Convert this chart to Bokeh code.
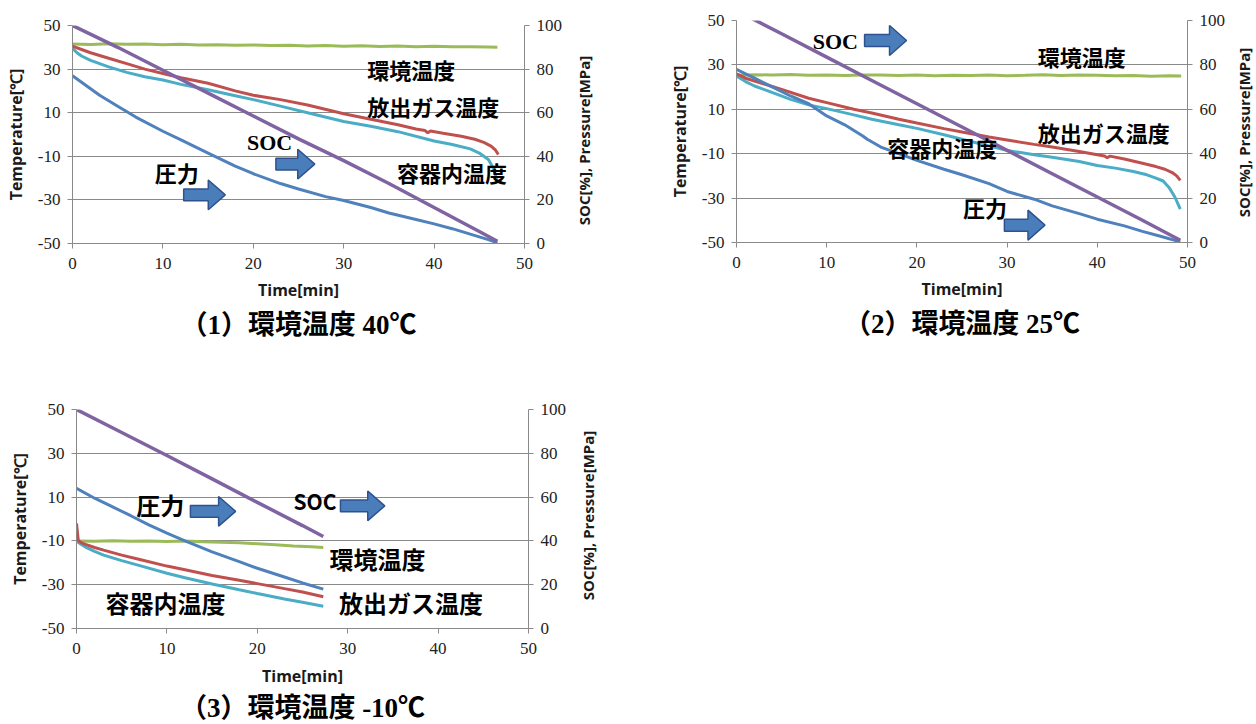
import math
from bokeh.plotting import figure
from bokeh.models import Range1d, LinearAxis, Label, Title, Plot
from bokeh.layouts import column, row
from bokeh.embed import file_html
from bokeh.resources import INLINE

# ---------------- axis definitions ----------------
TEMP_TICKS = [-50, -30, -10, 10, 30, 50]
TEMP_TICK_TEXT = {-50: "-50", -30: "-30", -10: "-10"}
RIGHT_TICKS = [0, 20, 40, 60, 80, 100]
TIME_TICKS = [0, 10, 20, 30, 40, 50]
TEMP_TITLE = "Temperature[℃]"
RIGHT_TITLE = "SOC[%], Pressure[MPa]"
TIME_TITLE = "Time[min]"

CAPTIONS = ["（1）環境温度 40℃", "（2）環境温度 25℃", "（3）環境温度 -10℃"]
NAMES = ["環境温度", "放出ガス温度", "容器内温度", "圧力", "SOC"]
COLORS = ["#9bbb59", "#c0504d", "#4bacc6", "#4f81bd", "#8064a2"]

# ---------------- panel 1 : ambient 40 C ----------------
p1_env_t = [0, 2, 4, 6, 8, 10, 12, 14, 16, 18, 20, 22, 24, 26, 28, 30, 32, 34, 36, 38, 40, 42, 44, 46, 47]
p1_env = [41.5, 41.3, 41.6, 41.4, 41.5, 41.2, 41.4, 41.1, 41.2, 40.9, 41.1, 40.8, 40.9, 40.6, 40.8,
          40.5, 40.7, 40.4, 40.6, 40.3, 40.5, 40.2, 40.3, 40.1, 40.0]
p1_gas_t = [0, 1, 2, 4, 6, 8, 10, 12, 15, 18, 20, 23, 26, 30, 33, 36, 38, 39, 39.3, 39.6, 41, 43,
            44.5, 45.5, 46.3, 46.8, 47.1]
p1_gas = [40.5, 39, 37.5, 35, 32.5, 30, 28, 26, 23.5, 20, 18, 16, 13.5, 9.5, 7, 4.5, 2.5, 1.8, 0.8,
          1.6, 0.6, -0.8, -2.2, -3.6, -5.3, -7.2, -9.2]
p1_ves_t = [0, 0.5, 1, 2, 4, 6, 8, 10, 12, 15, 18, 20, 23, 26, 30, 33, 36, 40, 42, 44, 45, 46, 46.5, 47]
p1_ves = [39.5, 37.5, 36, 34, 31, 28.5, 26.5, 25, 23, 20.5, 17.8, 16, 13, 10, 6, 3.8, 1.3, -3, -4.6,
          -6.6, -8.5, -11.5, -15, -21.5]
p1_prs_t = [0, 1, 2, 3, 5, 7, 10, 12, 15, 18, 20, 23, 25, 28, 30, 33, 35, 38, 40, 42, 44, 46, 47]
p1_prs = [77, 74, 71, 68, 63, 58, 51.5, 47.5, 41.5, 35.5, 32, 27.5, 25, 21.5, 19.7, 16.5, 14, 11, 9,
          6.8, 4.3, 1.8, 0.3]
p1_soc_t = [0, 5, 10, 15, 20, 25, 30, 35, 40, 45, 47]
p1_soc = [100, 90, 79.5, 69, 58.5, 48, 38, 27.5, 16.5, 5.5, 1]

# ---------------- panel 2 : ambient 25 C ----------------
p2_env_t = [0, 2, 4, 6, 8, 10, 12, 14, 16, 18, 20, 22, 24, 26, 28, 30, 32, 34, 36, 38, 40, 42, 44, 46, 48, 49.3]
p2_env = [25.3, 25.6, 25.4, 25.7, 25.3, 25.5, 25.2, 25.4, 25.5, 25.2, 25.4, 25.1, 25.3, 25.2, 25.4,
          25.1, 25.3, 25.6, 25.2, 25.4, 25.3, 25.1, 25.2, 24.9, 25.1, 25.0]
p2_gas_t = [0, 1, 3, 5, 8, 10, 13, 15, 18, 20, 23, 25, 28, 30, 33, 35, 38, 40, 40.8, 41.1, 41.4, 43,
            45, 46.5, 47.5, 48.3, 48.8, 49.2]
p2_gas = [26, 24, 21.5, 19, 15, 13, 10, 8.3, 5.5, 3.8, 1.3, -0.2, -2.5, -3.8, -5.8, -7, -9, -10.5,
          -11, -11.8, -11.1, -12.4, -14.3, -15.8, -17, -18.5, -20, -22]
p2_ves_t = [0, 1, 2, 4, 6, 8, 10, 13, 15, 18, 20, 23, 25, 28, 30, 33, 35, 38, 40, 42, 44, 45.5, 46.5,
            47.3, 48, 48.6, 49.2]
p2_ves = [25, 22.5, 20.5, 17.5, 14.5, 12, 10.3, 7.5, 5.5, 3, 1.4, -1.5, -3.5, -6.5, -8.5, -10.5,
          -11.6, -13.5, -15.3, -16.5, -18, -19.5, -21, -22.3, -25.5, -29.5, -35]
p2_prs_t = [0, 1, 2, 4, 6, 8, 10, 12, 14, 14.5, 16, 18, 20, 23, 25, 28, 30, 33, 35, 38, 40, 43, 45, 47, 49.2]
p2_prs = [78, 76, 74, 70, 66, 62.5, 57, 53, 48, 46.5, 43, 40, 37, 33, 30.5, 26.5, 23, 19.5, 16.5, 13,
          10.5, 7.5, 5, 2.8, 0.3]
p2_soc_t = [0, 5, 10, 15, 20, 25, 30, 35, 40, 45, 49.2]
p2_soc = [104.5, 94, 83.5, 73, 62.5, 52, 41.5, 31, 20.5, 10, 1]

# ---------------- panel 3 : ambient -10 C ----------------
p3_env_t = [0, 2, 4, 6, 8, 10, 12, 14, 16, 18, 20, 22, 24, 26, 27.3]
p3_env = [-10, -10.2, -9.9, -10.2, -10, -10.3, -10.1, -10.4, -10.6, -10.9, -11.3, -11.8, -12.3, -12.7, -13]
p3_gas_t = [0, 0.1, 0.2, 0.5, 1, 2, 3, 5, 7, 10, 12, 15, 18, 20, 23, 25, 27.3]
p3_gas = [-2, -6, -9.8, -10.8, -11.6, -13, -14.2, -16.5, -18.5, -21.5, -23.2, -25.8, -28, -29.5,
          -31.8, -33.3, -35.5]
p3_ves_t = [0, 0.5, 1, 2, 3, 5, 7, 10, 12, 15, 18, 20, 23, 25, 27.3]
p3_ves = [-10, -11.5, -12.8, -14.8, -16.5, -19, -21.3, -24.8, -26.8, -29.7, -32.3, -34, -36.5, -38, -39.8]
p3_prs_t = [0, 2, 4, 6, 8, 10, 12, 15, 18, 20, 23, 25, 27.3]
p3_prs = [64, 59.5, 55.5, 51.5, 47.3, 43.5, 40, 35, 30.5, 27.5, 23.5, 20.8, 18]
p3_soc_t = [0, 5, 10, 15, 20, 25, 27.3]
p3_soc = [100, 89.5, 79, 68.3, 57.6, 47, 42]

# ---------------- annotation anchors (left edge x [min], centre y [deg C]) ----------------
p1_lab_text = ["環境温度", "放出ガス温度", "容器内温度", "SOC", "圧力"]
p1_lab_x = [32.6, 32.6, 35.9, 19.3, 9.1]
p1_lab_y = [30.0, 12.9, -17.4, -3.8, -17.4]
p1_arr_x0 = [22.5, 12.3]
p1_arr_x1 = [26.8, 16.9]
p1_arr_y = [-13.6, -27.7]

p2_lab_text = ["環境温度", "放出ガス温度", "容器内温度", "SOC", "圧力"]
p2_lab_x = [33.4, 33.4, 16.7, 8.45, 25.1]
p2_lab_y = [33.8, -0.1, -6.8, 40.5, -33.9]
p2_arr_x0 = [14.2, 29.7]
p2_arr_x1 = [18.85, 34.2]
p2_arr_y = [41.0, -42.2]

p3_lab_text = ["環境温度", "放出ガス温度", "容器内温度", "SOC", "圧力"]
p3_lab_x = [28.0, 29.05, 3.2, 24.0, 6.6]
p3_lab_y = [-18.0, -38.0, -38.3, 8.3, 6.8]
p3_arr_x0 = [29.2, 12.6]
p3_arr_x1 = [34.1, 17.6]
p3_arr_y = [6.0, 3.5]

CJK = "Noto Sans CJK JP"
SERIF = "Liberation Serif"
SANS = "Open Sans"
GRID = "#8a8a8a"
TITLE_SIZE = "16px"
LTITLE_SIZE = "16px"
RTITLE_SIZE = "15px"


def make_panel(series, labels, arrows, caption, geom, soc_serif, jp_size, cap_standoff, xlab_standoff):
    w, h, bl, br, bt, bb = geom
    fw = w - bl - br
    fh = h - bt - bb
    p = figure(width=w, height=h, min_border_left=bl, min_border_right=br,
               min_border_top=bt, min_border_bottom=bb,
               x_range=Range1d(0, 50), y_range=Range1d(-50, 50),
               output_backend="svg", toolbar_location=None)
    if "frame_align" in Plot.properties():
        p.frame_align = False
    p.extra_y_ranges = {"r": Range1d(0, 100)}
    p.outline_line_color = None
    p.background_fill_color = "white"
    p.border_fill_color = "white"
    p.xgrid.visible = False
    p.ygrid.ticker = TEMP_TICKS
    p.ygrid.grid_line_color = GRID
    p.ygrid.grid_line_width = 1

    right = LinearAxis(y_range_name="r", ticker=RIGHT_TICKS)
    p.add_layout(right, "right")
    p.yaxis[0].ticker = TEMP_TICKS
    p.yaxis[0].major_label_overrides = TEMP_TICK_TEXT
    p.yaxis[0].axis_label = TEMP_TITLE
    p.xaxis.ticker = TIME_TICKS
    p.xaxis.axis_label = TIME_TITLE

    for ax in [p.xaxis[0], p.yaxis[0], right]:
        ax.axis_line_color = GRID
        ax.major_tick_line_color = GRID
        ax.major_tick_in = 0
        ax.major_tick_out = 5
        ax.minor_tick_line_color = None
        ax.major_label_text_font = SERIF
        ax.major_label_text_font_size = "17px"
        ax.major_label_text_color = "#222222"
        ax.major_label_standoff = 7
        ax.axis_label_text_font = SANS
        ax.axis_label_text_font_style = "bold"
        ax.axis_label_text_font_size = TITLE_SIZE
        ax.axis_label_text_color = "#1a1a1a"
        ax.axis_label_standoff = 8
    p.yaxis[0].axis_label_text_font_size = LTITLE_SIZE
    p.xaxis[0].major_label_standoff = 9
    p.xaxis[0].axis_label_standoff = xlab_standoff

    (env_t, env, gas_t, gas, ves_t, ves, prs_t, prs, soc_t, soc) = series
    p.line(env_t, env, line_color=COLORS[0], line_width=3)
    p.line(ves_t, ves, line_color=COLORS[2], line_width=3)
    p.line(gas_t, gas, line_color=COLORS[1], line_width=3)
    p.line(prs_t, prs, line_color=COLORS[3], line_width=3, y_range_name="r")
    p.line(soc_t, soc, line_color=COLORS[4], line_width=3.5, y_range_name="r")

    # block arrows (shape in pixels converted to data units)
    ax0, ax1, ay = arrows
    kx = 50.0 / fw
    ky = 100.0 / fh
    for x0, x1, yc in zip(ax0, ax1, ay):
        hl = 17 * kx
        sh = 6 * ky
        hh = 15 * ky
        xs = [x0, x1 - hl, x1 - hl, x1, x1 - hl, x1 - hl, x0]
        ys = [yc - sh, yc - sh, yc - hh, yc, yc + hh, yc + sh, yc + sh]
        p.patch(xs, ys, fill_color="#4a7ebb", line_color="#2f528f", line_width=1.5)

    txt, lx, ly = labels
    for t, x, y in zip(txt, lx, ly):
        if t == "SOC":
            font = SERIF if soc_serif else CJK
            size = "22px" if soc_serif else "21px"
        else:
            font = CJK
            size = jp_size
        p.add_layout(Label(x=x, y=y, text=t, text_align="left", text_baseline="middle",
                           text_font=font, text_font_style="bold", text_font_size=size,
                           text_color="black"))

    p.add_layout(Title(text=caption, align="center", text_font=SERIF + ", " + CJK,
                       text_font_style="bold", text_font_size="27px", text_color="black",
                       standoff=cap_standoff), "below")
    return p


def right_title_strip(w, h, cx, cy_from_top):
    """Narrow companion canvas that carries the right-hand axis title (reads bottom-to-top)."""
    t = figure(width=w, height=h, x_range=Range1d(0, w), y_range=Range1d(0, h), min_border=0,
               output_backend="svg", toolbar_location=None)
    if "frame_align" in Plot.properties():
        t.frame_align = False
    t.axis.visible = False
    t.grid.visible = False
    t.outline_line_color = None
    t.background_fill_color = "white"
    t.border_fill_color = "white"
    t.add_layout(Label(x=cx, y=h - cy_from_top, text=RIGHT_TITLE, angle=math.pi / 2,
                       text_align="center", text_baseline="middle", text_font=SANS,
                       text_font_style="bold", text_font_size=RTITLE_SIZE, text_color="#1a1a1a"))
    return t


f1 = make_panel((p1_env_t, p1_env, p1_gas_t, p1_gas, p1_ves_t, p1_ves, p1_prs_t, p1_prs, p1_soc_t, p1_soc),
                (p1_lab_text, p1_lab_x, p1_lab_y), (p1_arr_x0, p1_arr_x1, p1_arr_y), CAPTIONS[0],
                (568, 344, 72, 44, 25, 99), True, "22px", 9, 7)
t1 = right_title_strip(72, 344, 15, 140)
f2 = make_panel((p2_env_t, p2_env, p2_gas_t, p2_gas, p2_ves_t, p2_ves, p2_prs_t, p2_prs, p2_soc_t, p2_soc),
                (p2_lab_text, p2_lab_x, p2_lab_y), (p2_arr_x0, p2_arr_x1, p2_arr_y), CAPTIONS[1],
                (591, 344, 96, 44, 20, 102), True, "22px", 9, 7)
t2 = right_title_strip(24, 344, 12, 132)
f3 = make_panel((p3_env_t, p3_env, p3_gas_t, p3_gas, p3_ves_t, p3_ves, p3_prs_t, p3_prs, p3_soc_t, p3_soc),
                (p3_lab_text, p3_lab_x, p3_lab_y), (p3_arr_x0, p3_arr_x1, p3_arr_y), CAPTIONS[2],
                (572, 379, 76, 44, 65, 92), False, "24px", 2, 8)
t3 = right_title_strip(68, 379, 15, 171)

layout = column(row(f1, t1, f2, t2), row(f3, t3))
open("out.html", "w").write(file_html(layout, INLINE))
